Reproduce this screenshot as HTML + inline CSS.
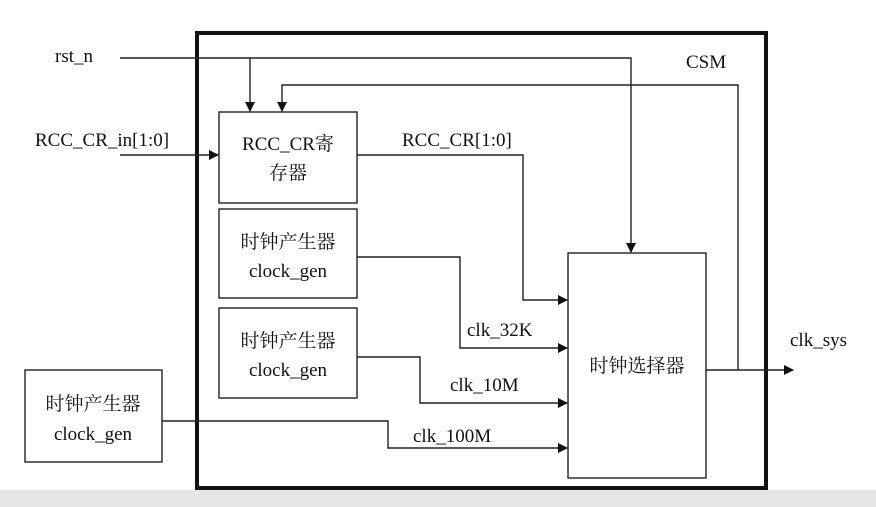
<!DOCTYPE html>
<html><head><meta charset="utf-8"><style>
html,body{margin:0;padding:0;background:#fff;}
svg{display:block;}
text{font-family:"Liberation Serif","Noto Serif CJK SC",serif;font-size:19px;fill:#111;}
</style></head><body>
<svg width="876" height="507" viewBox="0 0 876 507" xmlns="http://www.w3.org/2000/svg">
<defs><marker id="a" markerWidth="10" markerHeight="10" refX="9" refY="5" orient="auto" markerUnits="userSpaceOnUse"><path d="M0,0 L10,5 L0,10 Z" fill="#111"/></marker></defs>
<rect x="0" y="490" width="876" height="17" fill="#e6e6e6"/>
<rect x="197" y="33" width="569" height="455" fill="none" stroke="#111" stroke-width="4"/>
<g fill="none" stroke="#222" stroke-width="1.4">
<rect x="219" y="112" width="138" height="91"/>
<rect x="219" y="209" width="138" height="89"/>
<rect x="219" y="308" width="138" height="90"/>
<rect x="25" y="370" width="137" height="92"/>
<rect x="568" y="253" width="138" height="225"/>
<polyline points="120,58 631,58 631,252" marker-end="url(#a)"/>
<polyline points="250,58 250,111" marker-end="url(#a)"/>
<polyline points="738,370 738,85 282,85 282,111" marker-end="url(#a)"/>
<polyline points="120,155 218,155" marker-end="url(#a)"/>
<polyline points="357,155 523,155 523,300 567,300" marker-end="url(#a)"/>
<polyline points="357,257 460,257 460,348 567,348" marker-end="url(#a)"/>
<polyline points="357,357 420,357 420,403 567,403" marker-end="url(#a)"/>
<polyline points="162,421 388,421 388,448 567,448" marker-end="url(#a)"/>
<polyline points="706,370 793,370" marker-end="url(#a)"/>
</g>
<text x="55" y="62">rst_n</text>
<text x="686" y="68">CSM</text>
<text x="35" y="146">RCC_CR_in[1:0]</text>
<text x="402" y="146">RCC_CR[1:0]</text>
<text x="288" y="150" text-anchor="middle">RCC_CR寄</text>
<text x="288" y="179" text-anchor="middle">存器</text>
<text x="288" y="248" text-anchor="middle">时钟产生器</text>
<text x="288" y="277" text-anchor="middle">clock_gen</text>
<text x="288" y="347" text-anchor="middle">时钟产生器</text>
<text x="288" y="376" text-anchor="middle">clock_gen</text>
<text x="93" y="410" text-anchor="middle">时钟产生器</text>
<text x="93" y="440" text-anchor="middle">clock_gen</text>
<text x="637" y="372" text-anchor="middle">时钟选择器</text>
<text x="467" y="336">clk_32K</text>
<text x="450" y="391">clk_10M</text>
<text x="413" y="442">clk_100M</text>
<text x="790" y="346">clk_sys</text>
</svg>
</body></html>
